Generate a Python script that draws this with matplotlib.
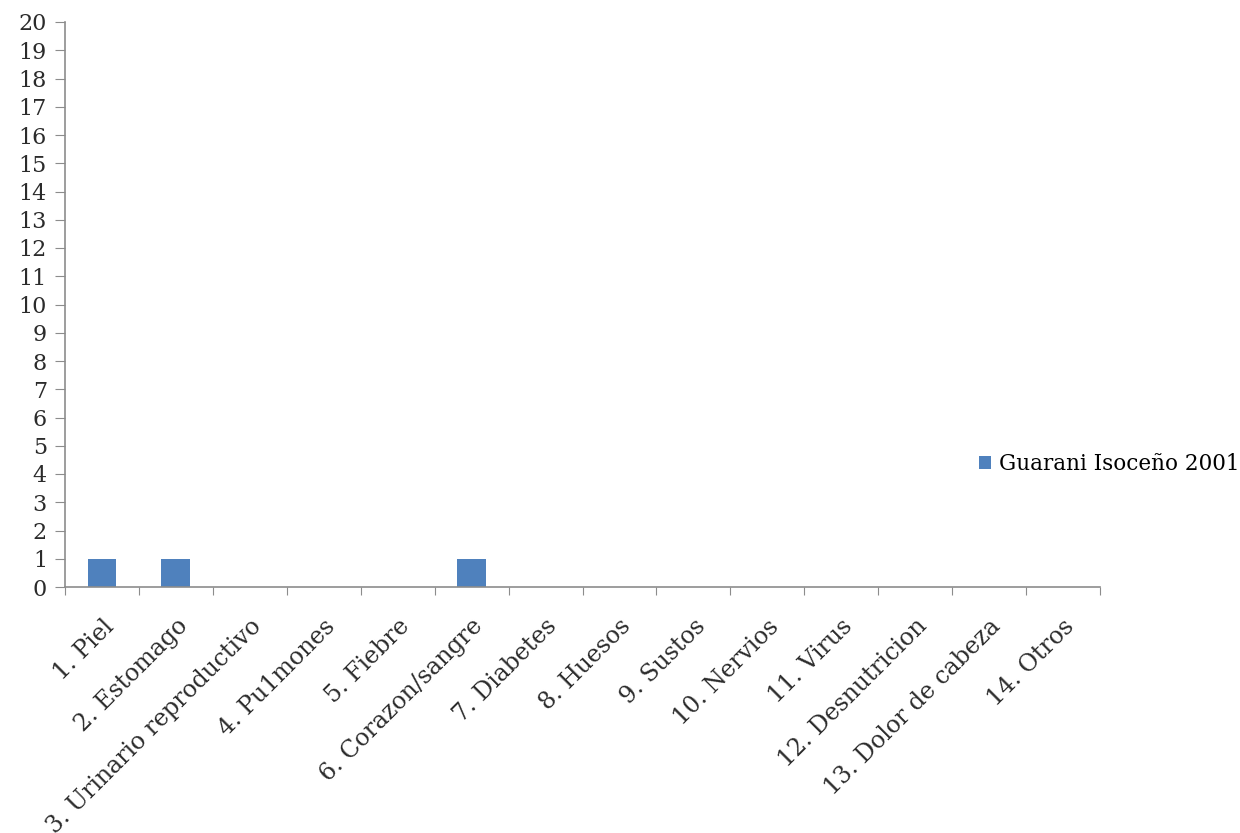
import numpy as np
import matplotlib
matplotlib.use('Agg')
import matplotlib.pyplot as plt
import matplotlib.transforms as mtransforms

categories = ['1. Piel', '2. Estomago', '3. Urinario reproductivo', '4. Pu1mones',
              '5. Fiebre', '6. Corazon/sangre', '7. Diabetes', '8. Huesos',
              '9. Sustos', '10. Nervios', '11. Virus', '12. Desnutricion',
              '13. Dolor de cabeza', '14. Otros']
values = [1, 1, 0, 0, 0, 1, 0, 0, 0, 0, 0, 0, 0, 0]
series_name = 'Guarani Isoceño 2001'
yticks = list(range(0, 21))

plt.rcParams['font.family'] = ['DejaVu Serif']
axis_gray = '#8c8c8c'
text_col = '#2b2b2b'

fig = plt.figure(figsize=(12.4, 8.33), dpi=100)
ax = fig.add_axes([65 / 1240, 1 - 587 / 833, (1100 - 65) / 1240, (587 - 22) / 833])

x = np.arange(len(categories))
ax.bar(x, values, width=0.39, color='#4F81BD', label=series_name)

ax.set_xlim(-0.5, len(categories) - 0.5)
ax.set_ylim(0, 20)
ax.set_yticks(yticks)
ax.set_yticklabels([str(v) for v in yticks], fontsize=16, color=text_col)

# category ticks sit on the boundaries, labels at the centres
ax.set_xticks(np.arange(len(categories) + 1) - 0.5)
ax.set_xticklabels([])
ax.set_xticks(x, minor=True)
ax.set_xticklabels(categories, minor=True, rotation=45, ha='right',
                   rotation_mode='anchor', fontsize=17, color=text_col)
shift = mtransforms.ScaledTranslation(4 / 100, 0, fig.dpi_scale_trans)
for lab in ax.get_xticklabels(minor=True):
    lab.set_transform(lab.get_transform() + shift)
ax.tick_params(axis='x', which='minor', length=0, pad=20)
ax.tick_params(axis='x', which='major', length=6, color=axis_gray)
ax.tick_params(axis='y', length=7, color=axis_gray, pad=6)

for side in ('top', 'right'):
    ax.spines[side].set_visible(False)
for side in ('left', 'bottom'):
    ax.spines[side].set_color(axis_gray)
    ax.spines[side].set_linewidth(1.2)

fig.legend(loc='center left', bbox_to_anchor=(968 / 1240, 1 - 464 / 833),
           frameon=False, fontsize=15.5, handlelength=0.55, handleheight=0.55,
           handletextpad=0.4, borderpad=0)

fig.savefig('out.png', dpi=100)
